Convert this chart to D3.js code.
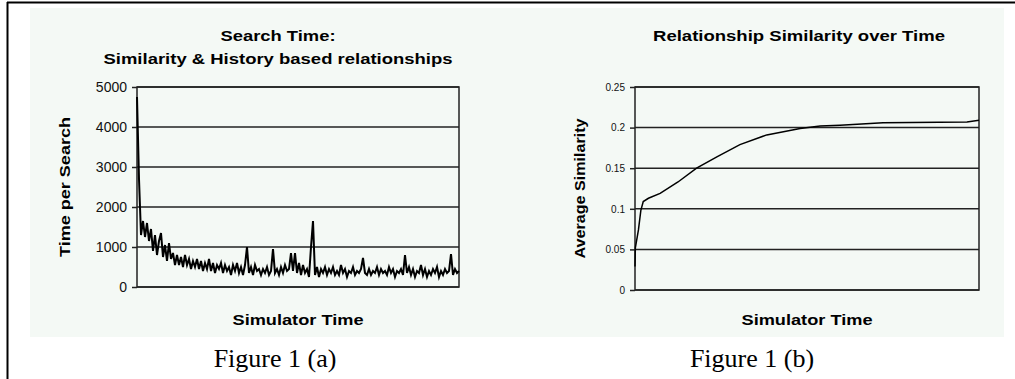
<!DOCTYPE html>
<html lang="en">
<head>
    <meta charset="UTF-8">
    <title>Search Time / Relationship Similarity</title>
    <script src="https://cdn.jsdelivr.net/npm/d3@7/dist/d3.min.js"></script>
    <style>
        body { margin: 0; background: #ffffff; }
        text { font-family: "Liberation Sans", Arial, sans-serif; }
    </style>
</head>
<body>
<div id="container"></div>

<script>
// Figure 1 (a): time per search, one value per step of simulator time
let searchTime = [
    4750, 2700, 1300, 1650, 1250, 1600, 1150, 1450, 900, 1300,
    800, 1150, 1350, 750, 1050, 650, 1100, 700, 850, 550,
    800, 550, 750, 500, 800, 550, 700, 450, 650, 500,
    700, 450, 650, 400, 600, 450, 700, 400, 600, 350,
    550, 450, 600, 350, 550, 400, 500, 300, 550, 400,
    600, 350, 500, 300, 550, 1000, 350, 500, 300, 550,
    400, 450, 300, 450, 350, 500, 300, 400, 950, 350,
    450, 300, 500, 350, 550, 400, 450, 850, 400, 850,
    350, 600, 300, 550, 350, 450, 250, 1000, 1650, 300,
    500, 250, 450, 350, 500, 300, 450, 350, 500, 300,
    400, 300, 550, 350, 450, 250, 400, 350, 500, 300,
    400, 350, 450, 725, 350, 300, 450, 300, 400, 350,
    500, 300, 450, 350, 400, 300, 500, 350, 450, 250,
    400, 350, 450, 300, 800, 350, 500, 300, 450, 250,
    400, 350, 550, 300, 450, 250, 400, 300, 450, 350,
    500, 250, 400, 300, 450, 350, 400, 825, 300, 450,
    350, 400
];
let searchTicks = [0, 1000, 2000, 3000, 4000, 5000];

// Figure 1 (b): average similarity read at some simulator times (0..1000)
let simTime = [0, 1, 10, 17, 24, 39, 73, 125, 179, 238, 305, 383, 480, 538, 596, 721, 965, 1000];
let avgSimilarity = [0.029, 0.052, 0.074, 0.098, 0.109, 0.113, 0.119, 0.133, 0.150, 0.164,
    0.179, 0.191, 0.199, 0.202, 0.203, 0.206, 0.207, 0.209];
let simTicks = [0, 0.05, 0.1, 0.15, 0.2, 0.25];
let simTickLabels = ["0", "0.05", "0.1", "0.15", "0.2", "0.25"];

let svg = d3.select('#container')
    .append('svg')
    .attr('width', 1015)
    .attr('height', 379);

// outer frame (top and left edges only) and the chart band
svg.append('line').attr('x1', 7).attr('x2', 1015).attr('y1', 2.5).attr('y2', 2.5)
    .attr('stroke', '#000').attr('stroke-width', 2);
svg.append('line').attr('x1', 7.5).attr('x2', 7.5).attr('y1', 2).attr('y2', 379)
    .attr('stroke', '#000').attr('stroke-width', 2);
svg.append('rect')
    .attr('x', 30).attr('y', 8)
    .attr('width', 974).attr('height', 329)
    .attr('fill', '#f4f9f5');

function drawPanel(opt) {
    let g = svg.append('g');

    // plot box and horizontal grid lines
    g.selectAll('line.grid')
        .data(opt.ticks)
        .join('line')
        .attr('class', 'grid')
        .attr('x1', opt.x.range()[0]).attr('x2', opt.x.range()[1])
        .attr('y1', d => opt.y(d)).attr('y2', d => opt.y(d))
        .attr('stroke', '#222')
        .attr('stroke-width', 1.5);
    g.append('rect')
        .attr('x', opt.x.range()[0]).attr('y', opt.y.range()[1])
        .attr('width', opt.x.range()[1] - opt.x.range()[0])
        .attr('height', opt.y.range()[0] - opt.y.range()[1])
        .attr('fill', 'none')
        .attr('stroke', '#222')
        .attr('stroke-width', 1.5);

    // y axis
    let axis = g.append('g')
        .attr('transform', 'translate(' + opt.x.range()[0] + ',0)')
        .call(d3.axisLeft(opt.y).tickValues(opt.ticks).tickSize(5).tickPadding(5)
            .tickFormat((d, i) => opt.labels[i]));
    axis.select('.domain').remove();
    axis.selectAll('.tick line').attr('stroke', '#222').attr('stroke-width', 1.5);
    axis.selectAll('.tick text')
        .attr('fill', '#111')
        .style('font-family', '"Liberation Sans", Arial, sans-serif')
        .style('font-size', opt.tickSize + 'px');

    // the data line
    g.append('path')
        .datum(opt.values)
        .attr('d', d3.line().x((d, i) => opt.x(opt.xs[i])).y(d => opt.y(d)))
        .attr('fill', 'none')
        .attr('stroke', '#000')
        .attr('stroke-width', opt.lineWidth)
        .attr('stroke-linejoin', 'miter');

    // titles
    opt.title.forEach((t, i) => {
        g.append('text')
            .attr('x', opt.titleX).attr('y', 41 + i * 23)
            .attr('text-anchor', 'middle')
            .attr('textLength', t.w).attr('lengthAdjust', 'spacingAndGlyphs')
            .style('font-weight', 'bold').style('font-size', '15px')
            .text(t.s);
    });
    let cx = (opt.x.range()[0] + opt.x.range()[1]) / 2;
    g.append('text')
        .attr('x', cx).attr('y', 325)
        .attr('text-anchor', 'middle')
        .attr('textLength', 131).attr('lengthAdjust', 'spacingAndGlyphs')
        .style('font-weight', 'bold').style('font-size', '15px')
        .text('Simulator Time');
    let cy = (opt.y.range()[0] + opt.y.range()[1]) / 2;
    g.append('text')
        .attr('transform', 'translate(' + opt.yLabelX + ',' + cy + ') rotate(-90)')
        .attr('text-anchor', 'middle')
        .attr('textLength', 140).attr('lengthAdjust', 'spacingAndGlyphs')
        .style('font-weight', 'bold').style('font-size', '15px')
        .text(opt.yLabel);

    // caption below the band
    g.append('text')
        .attr('x', opt.captionX).attr('y', 367)
        .attr('text-anchor', 'middle')
        .style('font-family', '"Liberation Serif", "Times New Roman", serif')
        .style('font-size', '26px')
        .text(opt.caption);
}

// Figure 1 (a)
let xa = d3.scaleLinear().domain([0, searchTime.length - 1]).range([137, 459]);
let ya = d3.scaleLinear().domain([0, 5000]).range([287, 87]);
drawPanel({
    x: xa, y: ya,
    xs: d3.range(searchTime.length), values: searchTime,
    ticks: searchTicks, labels: searchTicks.map(String), tickSize: 14,
    lineWidth: 2,
    title: [{s: 'Search Time:', w: 115}, {s: 'Similarity & History based relationships', w: 349}],
    titleX: 278,
    yLabel: 'Time per Search', yLabelX: 70,
    caption: 'Figure 1 (a)', captionX: 275
});

// Figure 1 (b)
let xb = d3.scaleLinear().domain([0, 1000]).range([635, 979]);
let yb = d3.scaleLinear().domain([0, 0.25]).range([290, 87]);
drawPanel({
    x: xb, y: yb,
    xs: simTime, values: avgSimilarity,
    ticks: simTicks, labels: simTickLabels, tickSize: 10,
    lineWidth: 1.5,
    title: [{s: 'Relationship Similarity over Time', w: 292}],
    titleX: 799,
    yLabel: 'Average Similarity', yLabelX: 585,
    caption: 'Figure 1 (b)', captionX: 752
});
</script>
</body>
</html>
